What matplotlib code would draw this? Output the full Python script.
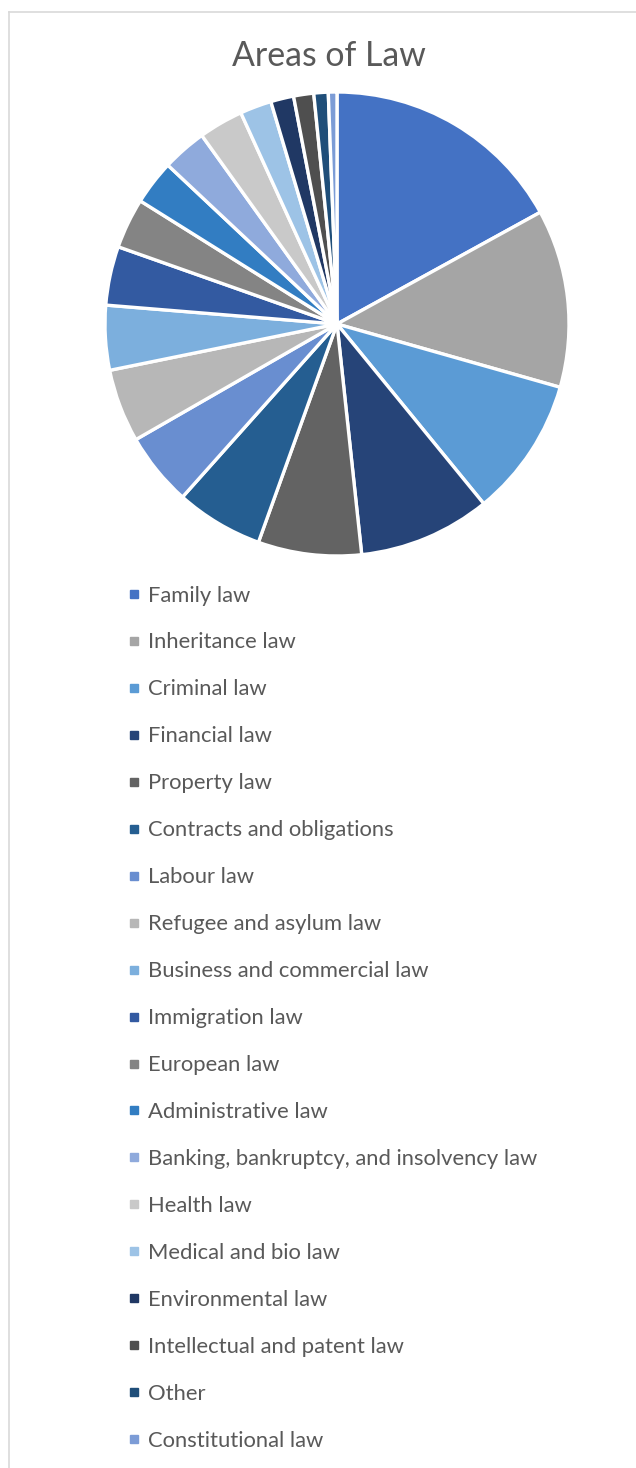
import matplotlib
matplotlib.use("Agg")
import matplotlib.pyplot as plt
from matplotlib.lines import Line2D
from matplotlib.patches import Rectangle

W, H = 636, 1468

areas = ["Family law", "Inheritance law", "Criminal law", "Financial law",
         "Property law", "Contracts and obligations", "Labour law",
         "Refugee and asylum law", "Business and commercial law",
         "Immigration law", "European law", "Administrative law",
         "Banking, bankruptcy, and insolvency law", "Health law",
         "Medical and bio law", "Environmental law",
         "Intellectual and patent law", "Other", "Constitutional law"]
shares = [17.0, 12.4, 9.7, 9.2, 7.2, 6.1, 5.1, 5.1, 4.5, 4.1,
          3.5, 3.1, 3.1, 3.1, 2.2, 1.6, 1.4, 1.0, 0.6]
colors = ["#4472C4", "#A5A5A5", "#5B9BD5", "#264478", "#636363", "#255E91",
          "#698ED0", "#B7B7B7", "#7CAFDD", "#335AA1", "#848484", "#327DC2",
          "#8FAADC", "#C9C9C9", "#9DC3E6", "#203864", "#4F4F4F", "#1F4E79",
          "#7C9CD6"]

plt.rcParams['font.family'] = ['Lato', 'DejaVu Sans']
text_col = "#595959"

fig = plt.figure(figsize=(W / 100, H / 100), dpi=100)

# frame of the chart area (left and top edges visible)
fig.add_artist(Line2D([9 / W, 9 / W], [0, 1 - 12 / H], transform=fig.transFigure,
                      color="#D9D9D9", lw=1.2))
fig.add_artist(Line2D([9 / W, 1], [1 - 12 / H, 1 - 12 / H], transform=fig.transFigure,
                      color="#D9D9D9", lw=1.2))

fig.text(329 / W, 1 - 56 / H, "Areas of Law", ha="center", va="center",
         fontsize=24.4, color=text_col)

# pie
cx, cy, r = 337, 324, 232
ax = fig.add_axes([(cx - r) / W, 1 - (cy + r) / H, 2 * r / W, 2 * r / H])
ax.pie(shares, colors=colors, startangle=90, counterclock=False, radius=1,
       wedgeprops=dict(edgecolor="white", linewidth=2.4))
ax.set_xlim(-1, 1)
ax.set_ylim(-1, 1)
ax.axis("off")

# legend
y0, dy = 594, 46.95
for i, (name, col) in enumerate(zip(areas, colors)):
    y = y0 + i * dy
    fig.add_artist(Rectangle((130 / W, 1 - (y + 4) / H), 8 / W, 8 / H,
                             transform=fig.transFigure, color=col))
    fig.text(148 / W, 1 - (y + 1.5) / H, name, ha="left", va="center",
             fontsize=15.8, color=text_col)

fig.savefig("out.png", dpi=100)
